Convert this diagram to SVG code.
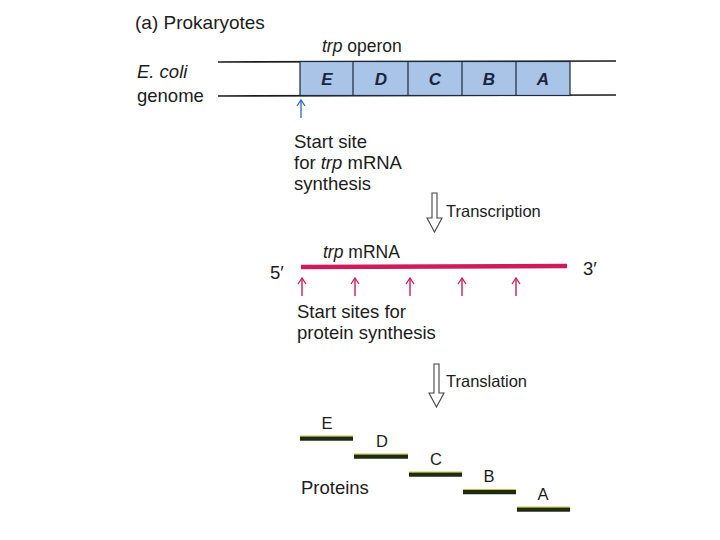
<svg xmlns="http://www.w3.org/2000/svg" width="720" height="540" viewBox="0 0 720 540">
<defs>
<style>
text{font-family:"Liberation Sans",Arial,sans-serif;fill:#1c1c1c}
.lbl{font-size:18.5px}
.sm{font-size:16.5px}
.gene{font-size:17px;font-style:italic;font-weight:bold;fill:#1a2540}
.dna{stroke:#1c1c1c;stroke-width:1.6;fill:none}
.box{fill:#a9c4e6;stroke:#1c2a40;stroke-width:1.2}
.pink{stroke:#cc1a5c;stroke-width:1.4;fill:none}
.prot{stroke:#1f2a12;stroke-width:4.5}
.protHi{stroke:#c9c43a;stroke-width:1.2}
.hollow{fill:#fff;stroke:#444;stroke-width:1.1}
</style>
<marker id="blueHead" viewBox="0 0 10 10" refX="9" refY="5" markerWidth="10" markerHeight="10" markerUnits="userSpaceOnUse" orient="auto">
<path d="M3,1 L9,5 L3,9" fill="none" stroke="#2a6ab5" stroke-width="1.3"/>
</marker>
<marker id="pinkHead" viewBox="0 0 10 10" refX="9" refY="5" markerWidth="10" markerHeight="10" markerUnits="userSpaceOnUse" orient="auto">
<path d="M3,1 L9,5 L3,9" fill="none" stroke="#cc1a5c" stroke-width="1.3"/>
</marker>
</defs>
<rect width="720" height="540" fill="#fff"/>

<g id="title"><text class="lbl" x="135" y="29" style="font-size:19px">(a) Prokaryotes</text></g>

<g id="genome">
<text class="lbl" x="137" y="78"><tspan font-style="italic">E. coli</tspan></text>
<text class="lbl" x="137" y="102">genome</text>
<line class="dna" x1="218" y1="62" x2="616" y2="61"/>
<line class="dna" x1="218" y1="96" x2="616" y2="95"/>
</g>

<g id="operon">
<text class="lbl" x="322" y="52" style="font-size:17.5px"><tspan font-style="italic">trp</tspan> operon</text>
<rect class="box" x="300" y="61.5" width="270" height="34"/>
<line class="box" x1="353" y1="61.5" x2="353" y2="95.5"/>
<line class="box" x1="408" y1="61.5" x2="408" y2="95.5"/>
<line class="box" x1="462" y1="61.5" x2="462" y2="95.5"/>
<line class="box" x1="516" y1="61.5" x2="516" y2="95.5"/>
<text class="gene" x="327" y="85" text-anchor="middle">E</text>
<text class="gene" x="381" y="85" text-anchor="middle">D</text>
<text class="gene" x="435" y="85" text-anchor="middle">C</text>
<text class="gene" x="489" y="85" text-anchor="middle">B</text>
<text class="gene" x="543" y="85" text-anchor="middle">A</text>
</g>

<g id="mrna-start">
<text class="lbl" x="294" y="148">Start site</text>
<text class="lbl" x="294" y="169">for <tspan font-style="italic">trp</tspan> mRNA</text>
<text class="lbl" x="294" y="190">synthesis</text>
</g>

<g id="transcription">
<text class="sm" x="446" y="217">Transcription</text>
</g>

<g id="mrna">
<text class="lbl" x="323" y="258" style="font-size:17.5px"><tspan font-style="italic">trp</tspan> mRNA</text>
<text class="lbl" x="270" y="279">5′</text>
<text class="lbl" x="583" y="275">3′</text>
<line x1="301" y1="267" x2="567" y2="266" stroke="#cf1a5b" stroke-width="4.5"/>
</g>

<g id="protein-start">
<text class="lbl" x="297" y="318">Start sites for</text>
<text class="lbl" x="297" y="339">protein synthesis</text>
</g>

<g id="translation">
<text class="sm" x="446" y="387">Translation</text>
</g>

<g id="proteins">
<text class="lbl" x="301" y="494">Proteins</text>
<g id="protE"><line class="prot" x1="300" y1="438.5" x2="353" y2="438.5"/><line class="protHi" x1="300" y1="436" x2="353" y2="436"/><text class="sm" x="327" y="429" text-anchor="middle">E</text></g>
<g id="protD"><line class="prot" x1="354" y1="456.5" x2="408" y2="456.5"/><line class="protHi" x1="354" y1="454" x2="408" y2="454"/><text class="sm" x="382" y="447" text-anchor="middle">D</text></g>
<g id="protC"><line class="prot" x1="409" y1="474.5" x2="462" y2="474.5"/><line class="protHi" x1="409" y1="472" x2="462" y2="472"/><text class="sm" x="436" y="465" text-anchor="middle">C</text></g>
<g id="protB"><line class="prot" x1="463" y1="492" x2="516" y2="492"/><line class="protHi" x1="463" y1="489.5" x2="516" y2="489.5"/><text class="sm" x="489" y="482" text-anchor="middle">B</text></g>
<g id="protA"><line class="prot" x1="517" y1="509.5" x2="570" y2="509.5"/><line class="protHi" x1="517" y1="507" x2="570" y2="507"/><text class="sm" x="543" y="500" text-anchor="middle">A</text></g>
</g>

<g id="connectors">
<line x1="301" y1="118" x2="301" y2="100" stroke="#2a6ab5" stroke-width="1.3" marker-end="url(#blueHead)"/>
<path class="hollow" d="M432,193 L432,218 L427,218 L434.5,232 L442,218 L437,218 L437,193 Z"/>
<path class="hollow" d="M434,364 L434,393 L429,393 L436.5,407 L444,393 L439,393 L439,364 Z"/>
<line class="pink" x1="302" y1="296" x2="302" y2="278" marker-end="url(#pinkHead)"/>
<line class="pink" x1="355" y1="296" x2="355" y2="278" marker-end="url(#pinkHead)"/>
<line class="pink" x1="410" y1="296" x2="410" y2="278" marker-end="url(#pinkHead)"/>
<line class="pink" x1="462" y1="296" x2="462" y2="278" marker-end="url(#pinkHead)"/>
<line class="pink" x1="516" y1="296" x2="516" y2="278" marker-end="url(#pinkHead)"/>
</g>
</svg>
